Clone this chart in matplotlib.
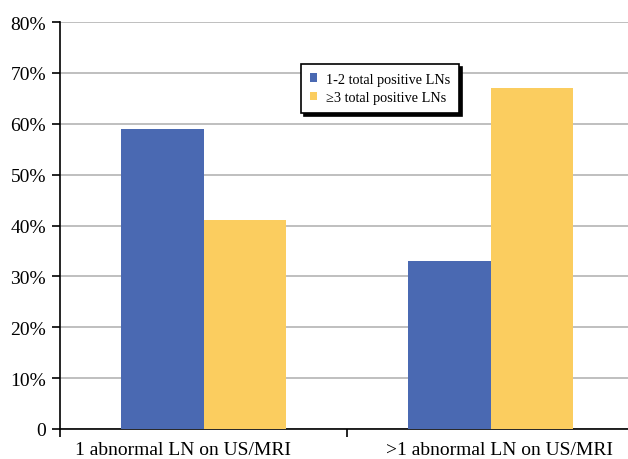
import matplotlib.pyplot as plt
import numpy as np

categories = ['1 abnormal LN on US/MRI', '>1 abnormal LN on US/MRI']
series_names = ['1-2 total positive LNs', '\u22653 total positive LNs']
small_ln = [59, 33]
large_ln = [41, 67]
yticks = [0, 10, 20, 30, 40, 50, 60, 70, 80]
ytick_labels = ['0', '10%', '20%', '30%', '40%', '50%', '60%', '70%', '80%']

blue = '#4A69B2'
yellow = '#FBCD5F'

plt.rcParams['font.family'] = ['Liberation Serif', 'DejaVu Serif']

fig = plt.figure(figsize=(6.28, 4.6), dpi=100)
ax = fig.add_axes([60 / 628, 30 / 460, 574 / 628, 407 / 460])

x = np.arange(len(categories))
w = 0.286
ax.bar(x - w / 2, small_ln, w, color=blue, label=series_names[0], zorder=3)
ax.bar(x + w / 2, large_ln, w, color=yellow, label=series_names[1], zorder=3)

ax.set_xlim(-0.5, 1.5)
ax.set_ylim(0, 80)
ax.set_yticks(yticks)
ax.set_yticklabels(ytick_labels, fontsize=14)
ax.yaxis.grid(True, color='#b4b4b4', linewidth=1.2, zorder=0)

# category labels sit slightly off-centre in the original
label_shift = np.array([-0.072, 0.03])
ax.set_xticks([-0.5, 0.5, 1.5])
ax.set_xticklabels([])
ax.set_xticks(x + label_shift, minor=True)
ax.set_xticklabels(categories, minor=True, fontsize=14)
ax.tick_params(axis='x', which='minor', length=0, pad=9)
ax.tick_params(axis='x', which='major', length=6, width=1.2, direction='out')
ax.tick_params(axis='y', length=6, width=1.2, direction='out', pad=4)

for s in ['top', 'right']:
    ax.spines[s].set_visible(False)
ax.spines['left'].set_linewidth(1.2)
ax.spines['bottom'].set_linewidth(1.2)

leg = ax.legend(loc='upper left', bbox_to_anchor=(301 / 628, 1 - 65 / 460),
                bbox_transform=fig.transFigure, borderaxespad=0,
                fancybox=False, edgecolor='black', shadow={'color': 'black', 'alpha': 1},
                fontsize=10.3, handlelength=0.5, handleheight=0.5, handletextpad=0.65,
                labelspacing=0.4, borderpad=0.6)
leg.get_frame().set_linewidth(1.2)

fig.savefig('out.png', dpi=100)
